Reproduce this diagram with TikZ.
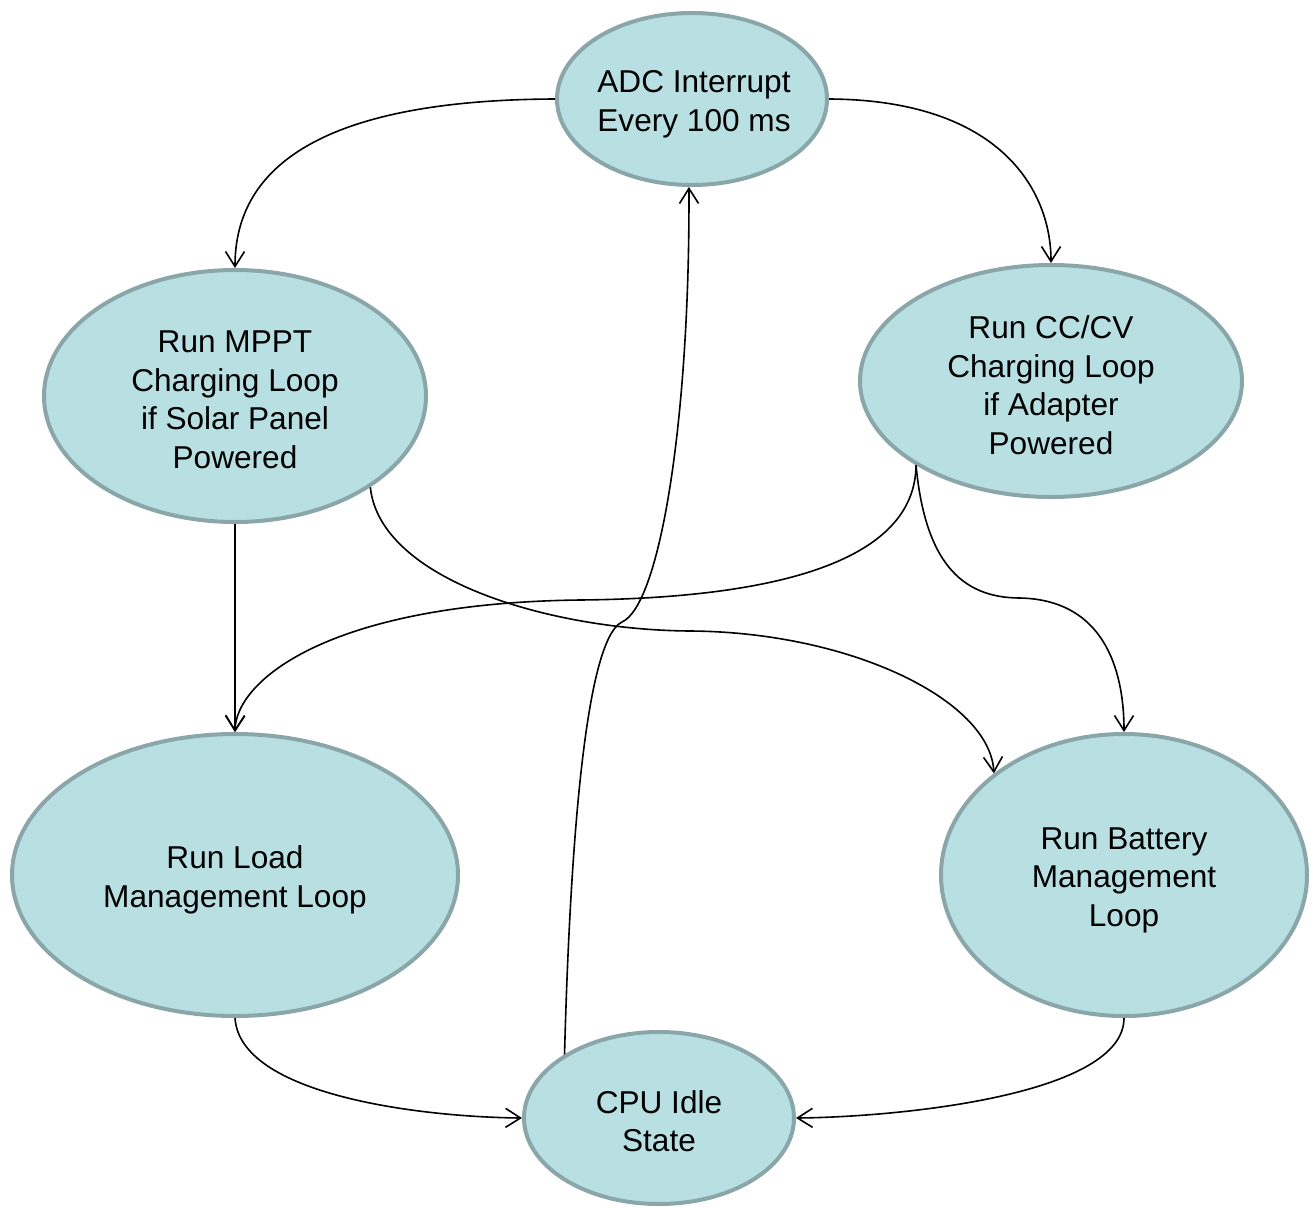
\documentclass[tikz,border=0pt]{standalone}
\usepackage{fontspec}
\setmainfont{Liberation Sans}
\usetikzlibrary{shapes.geometric,arrows.meta}
\definecolor{sfill}{HTML}{B8E0E3}
\definecolor{sline}{HTML}{8AA6A9}
\begin{document}
\begin{tikzpicture}[x=1pt,y=-1pt,
  state/.style={ellipse,draw=sline,fill=sfill,line width=4pt,inner sep=0pt},
  txt/.style={align=center,font=\fontsize{31.6}{38.5}\selectfont,inner sep=0pt},
  conn/.style={draw=black,line width=1.6pt,-{Straight Barb[length=15pt,width=19pt,line width=1.6pt]}}]
\useasboundingbox (0,0) rectangle (1314,1207);
\node[state,minimum width=270,minimum height=172] (adc) at (692,99) {};
\node[state,minimum width=382,minimum height=252] (mppt) at (235,396) {};
\node[state,minimum width=382,minimum height=232] (cc) at (1051,381) {};
\node[state,minimum width=446,minimum height=282] (load) at (235,875) {};
\node[state,minimum width=366,minimum height=282] (batt) at (1124,875) {};
\node[state,minimum width=270,minimum height=172] (cpu) at (659,1118) {};
\node[txt] (adct) at (694,104) {ADC Interrupt\\Every 100 ms};
\node[txt] (mpptt) at (235,400) {Run MPPT\\Charging Loop\\if Solar Panel\\Powered};
\node[txt] (cct) at (1051,385) {Run CC/CV\\Charging Loop\\if Adapter\\Powered};
\node[txt] (loadt) at (235,880) {Run Load\\Management Loop};
\node[txt] (battt) at (1124,880) {Run Battery\\Management\\Loop};
\node[txt] (cput) at (659,1121) {CPU Idle\\State};
\draw[conn] (adc.west) .. controls (300,100) and (235,180) .. (mppt.north);
\draw[conn] (adc.east) .. controls (1000,100) and (1051,190) .. (cc.north);
\draw[conn] (mppt.south) -- (load.north);
\draw[conn] (cc.212) .. controls (915,560) and (780,598) .. (580,600) .. controls (330,603) and (236,680) .. (load.north);
\draw[conn] (mppt.326) .. controls (380,580) and (550,630) .. (690,631) .. controls (850,632) and (990,700) .. (batt.142);
\draw[conn] (cc.212) .. controls (925,560) and (960,598) .. (1020,598) .. controls (1110,600) and (1124,680) .. (batt.north);
\draw[conn] (cpu.146) .. controls (570,850) and (585,640) .. (622,622) .. controls (660,605) and (690,420) .. (adc.268);
\draw[conn] (load.south) .. controls (240,1095) and (420,1117) .. (cpu.west);
\draw[conn] (batt.south) .. controls (1124,1095) and (900,1117) .. (cpu.east);
\end{tikzpicture}
\end{document}
